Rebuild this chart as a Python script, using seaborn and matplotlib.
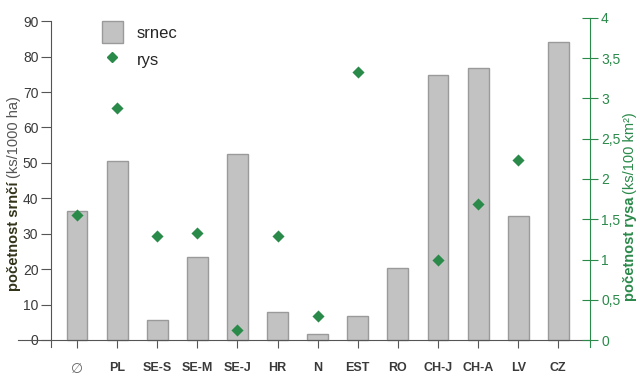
import numpy as np
import pandas as pd
import matplotlib
matplotlib.use("Agg")
import matplotlib.pyplot as plt
import seaborn as sns
from matplotlib.patches import Patch
from matplotlib.lines import Line2D

# data
countries = ["\u2205", "PL", "SE-S", "SE-M", "SE-J", "HR", "N", "EST", "RO", "CH-J", "CH-A", "LV", "CZ"]
srnec = [36.5, 50.5, 5.7, 23.5, 52.5, 8.0, 1.6, 6.7, 20.4, 74.7, 76.8, 34.9, 84.0]
rys = [1.55, 2.88, 1.29, 1.33, 0.12, 1.29, 0.30, 3.33, np.nan, 0.99, 1.69, 2.23, np.nan]

df = pd.DataFrame({"zeme": countries, "srnec": srnec, "rys": rys})
df["pos"] = np.arange(len(df))

sns.set_style("white")
plt.rcParams["font.family"] = ["Liberation Sans", "DejaVu Sans"]

green = "#2a8a4a"
dark = "#3a3a3a"

fig = plt.figure(figsize=(6.4, 3.82), dpi=100)
ax = fig.add_axes([18 / 640, 35 / 382, (590 - 18) / 640, (347 - 18) / 382])

sns.barplot(data=df, x="zeme", y="srnec", color="#c2c2c2", edgecolor="#9a9a9a",
            linewidth=1, width=0.52, saturation=1, ax=ax)
ax.set_xlim(-1.47, 12.79)
ax.set_ylim(-2, 90.9)

ax2 = ax.twinx()
sns.scatterplot(data=df.dropna(), x="pos", y="rys", marker="D", s=38, color=green,
                edgecolor=green, linewidth=0, ax=ax2, legend=False)
ax2.set_ylim(-28 / 322, 4)
ax2.set_xlim(-1.47, 12.79)

# spines
ax.spines["top"].set_visible(False)
ax2.spines["top"].set_visible(False)
ax.spines["right"].set_visible(False)
ax2.spines["left"].set_visible(False)
ax2.spines["bottom"].set_visible(False)
ax.spines["bottom"].set_position(("data", 0))
ax.spines["bottom"].set_color("#555555")
ax.spines["left"].set_position(("data", -0.65))
ax.spines["left"].set_bounds(-2, 90)
ax.spines["left"].set_color("#555555")
ax2.spines["right"].set_color(green)
ax2.spines["right"].set_bounds(-28 / 322, 4)

ax.set_yticks(range(0, 91, 10))
ax.tick_params(axis="y", direction="out", length=7, width=0.8, color="#555555",
               labelsize=10, labelcolor=dark, pad=2, left=True)
ax.set_xticks(df["pos"])
ax.set_xticklabels(countries, fontweight="bold", fontsize=9, color=dark)
ax.tick_params(axis="x", direction="out", length=6, width=0.8, color="#555555",
               pad=10, bottom=True)
ax.get_xticklabels()[0].set_fontweight("normal")
ax.get_xticklabels()[0].set_color("#666666")
ax.get_xticklabels()[0].set_fontsize(10)

rticks = [0, 0.5, 1, 1.5, 2, 2.5, 3, 3.5, 4]
ax2.set_yticks(rticks)
ax2.set_yticklabels([str(t).replace(".", ",").replace(",0", "") for t in rticks])
ax2.tick_params(axis="y", direction="inout", length=12, width=0.8, color=green,
                labelsize=10, labelcolor=green, pad=2, right=True)

ax.set_xlabel("")
ax.set_ylabel("")
ax2.set_xlabel("")
ax2.set_ylabel("")

# legend
handles = [Patch(facecolor="#c2c2c2", edgecolor="#9a9a9a", label="srnec"),
           Line2D([], [], marker="D", color=green, linestyle="none", markersize=5, label="rys")]
ax.legend(handles=handles, loc="upper left", bbox_to_anchor=(0.12, 1.035), frameon=False,
          fontsize=12, handlelength=1.3, handleheight=1.6, labelspacing=0.38, handletextpad=0.8)

# axis labels: bold part + normal part
fig.canvas.draw()
r = fig.canvas.get_renderer()
t1 = fig.text(14 / 640, 1 - 291 / 382, "početnost srnčí", rotation=90, fontsize=10.5,
              fontweight="bold", color="#33331a", ha="center", va="bottom")
bb = t1.get_window_extent(r)
fig.text(14 / 640, (bb.y1 + 3) / 382, "(ks/1000 ha)", rotation=90, fontsize=10.5,
         color="#555555", ha="center", va="bottom")
t2 = fig.text(630 / 640, 1 - 301 / 382, "početnost rysa", rotation=90, fontsize=10.5,
              fontweight="bold", color=green, ha="center", va="bottom")
bb2 = t2.get_window_extent(r)
fig.text(630 / 640, (bb2.y1 + 3) / 382, "(ks/100 km\u00b2)", rotation=90, fontsize=10.5,
         color=green, ha="center", va="bottom")

fig.savefig("out.png", dpi=100)
